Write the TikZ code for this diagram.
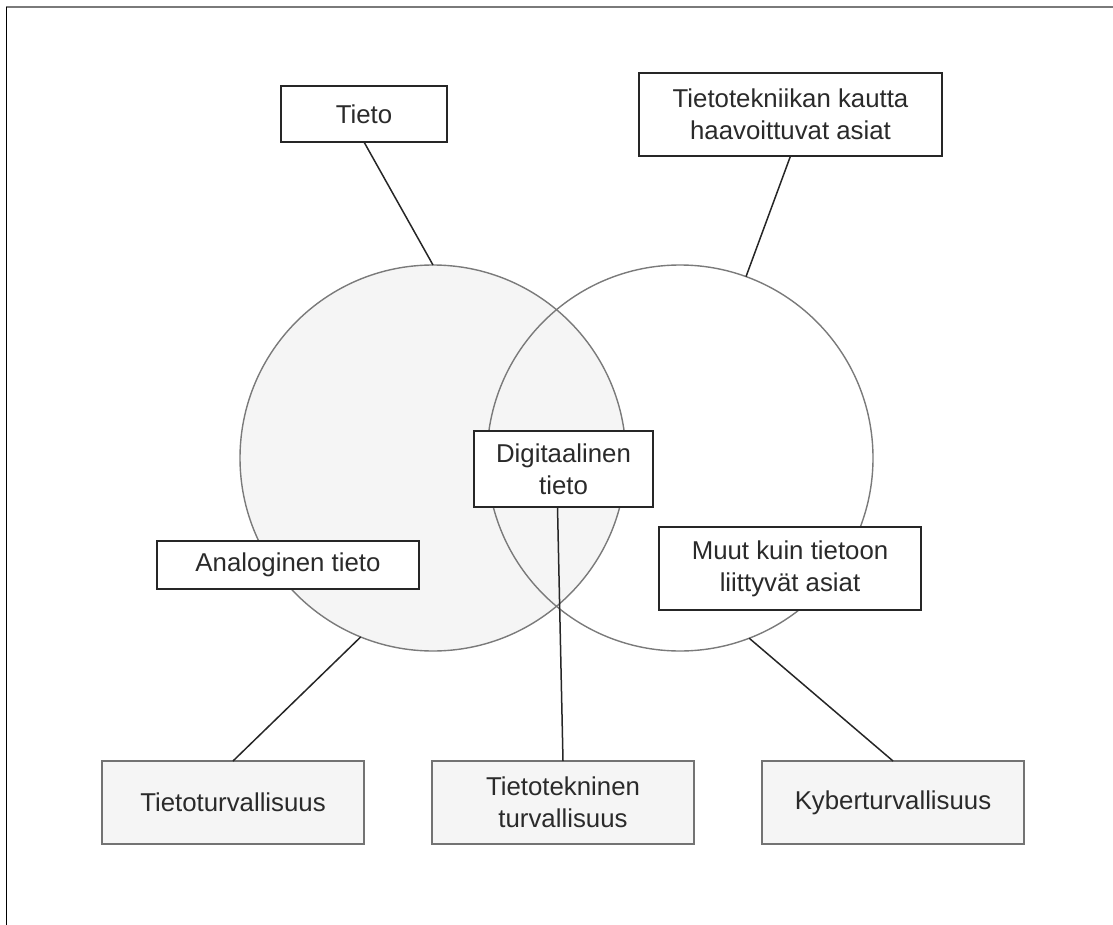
\documentclass[tikz,border=0pt]{standalone}
\usepackage{fontspec}
\setmainfont{Liberation Sans}
\usepackage{xcolor}
\usepackage{tikz}

\definecolor{lightfill}{HTML}{F5F5F5}
\definecolor{rimgray}{HTML}{7A7A7A}
\definecolor{textgray}{HTML}{2A2A2A}

\begin{document}
\begin{tikzpicture}[
		x=1pt, y=-1pt,
		set/.style={circle, draw=rimgray, line width=1.4pt, minimum size=386pt, inner sep=0pt, outer sep=0pt},
		labelbox/.style={rectangle, draw=black!85, line width=1.6pt, fill=white, align=center, inner sep=0pt, outer sep=0pt, text=textgray},
		areabox/.style={rectangle, draw=black!55, line width=1.6pt, fill=lightfill, align=center, inner sep=0pt, outer sep=0pt, minimum width=262pt, minimum height=83pt, text=textgray},
		link/.style={draw=black!85, line width=1.5pt},
		every node/.style={font=\fontsize{25.8}{32}\selectfont}
		]
		\useasboundingbox (0,0) rectangle (1113,925);
		% page frame
		\draw[rimgray, line width=2.5pt] (6,7) -- (1113,7);
		\draw[black, line width=1.8pt] (6.5,7) -- (6.5,925);

		% the two sets
		\node[set, fill=lightfill] (tietoset) at (433,458) {};
		\node[set] (tekset) at (680,458) {};

		% labels
		\node[labelbox, minimum width=166pt, minimum height=56pt] (tieto) at (364,114) {Tieto};
		\node[labelbox, minimum width=303pt, minimum height=83pt] (haava) at (790.5,114.5) {Tietotekniikan kautta\\haavoittuvat asiat};
		\node[labelbox, minimum width=179pt, minimum height=76pt] (digi) at (563.5,469) {Digitaalinen\\tieto};
		\node[labelbox, minimum width=262pt, minimum height=48pt] (analog) at (288,565) {Analoginen tieto};
		\node[labelbox, minimum width=262pt, minimum height=83pt] (muut) at (790,568.5) {Muut kuin tietoon\\liittyvät asiat};

		% areas of security
		\node[areabox] (turva) at (233,802.5) {Tietoturvallisuus};
		\node[areabox] (tektur) at (563,802.5) {Tietotekninen\\turvallisuus};
		\node[areabox] (kyber) at (893,802.5) {Kyberturvallisuus};

		\draw[link] (tieto.south) -- (tietoset.90);
		\draw[link] (haava.south) -- (tekset.70);
		\draw[link] ([xshift=-6pt]digi.south) -- (tektur.north);
		\draw[link] (tietoset.248.5) -- (turva.north);
		\draw[link] (tekset.291.5) -- (kyber.north);
	\end{tikzpicture}
\end{document}
